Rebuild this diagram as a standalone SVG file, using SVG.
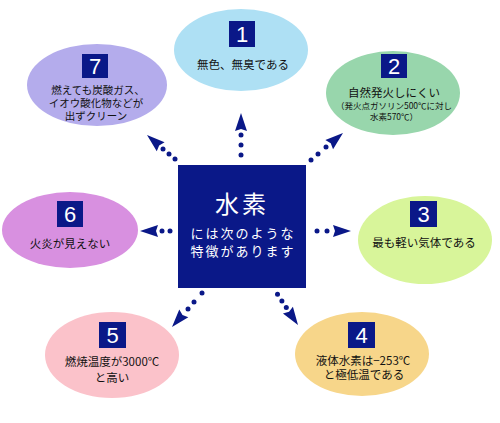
<svg xmlns="http://www.w3.org/2000/svg" xmlns:xlink="http://www.w3.org/1999/xlink" width="500" height="423" viewBox="0 0 500 423">
<style>
.t{font-family:"Noto Sans CJK JP","Liberation Sans",sans-serif;font-size:11.5px;fill:#111;text-anchor:middle}
.s{font-size:8.5px}
.m{font-size:10.5px}
.box{fill:#0a1888}
.num{font-family:"Liberation Sans",Arial,sans-serif;font-size:22px;fill:#fff;text-anchor:middle}
.dot{fill:#0a1888}
.ttl{font-family:"Noto Sans CJK JP",sans-serif;fill:#fff;text-anchor:middle}
</style>
<defs>
<polygon id="head" points="0,0 -18,-6 -16,0 -18,6" fill="#0a1888"/>
</defs>
<rect width="500" height="423" fill="#fff"/>
<g id="connectors">
<use xlink:href="#head" transform="translate(241,113) rotate(-90)"/>
<circle class="dot" cx="241" cy="135" r="2.5"/><circle class="dot" cx="241" cy="145" r="2.5"/><circle class="dot" cx="241" cy="155" r="2.5"/>
<use xlink:href="#head" transform="translate(343,133) rotate(-40)"/>
<circle class="dot" cx="326" cy="147" r="2.5"/><circle class="dot" cx="318" cy="154" r="2.5"/><circle class="dot" cx="311" cy="160" r="2.5"/>
<use xlink:href="#head" transform="translate(351,231)"/>
<circle class="dot" cx="327" cy="231" r="2.5"/><circle class="dot" cx="317" cy="231" r="2.5"/>
<use xlink:href="#head" transform="translate(298,325) rotate(56)"/>
<circle class="dot" cx="286.3" cy="307.5" r="2.5"/><circle class="dot" cx="281.9" cy="300.9" r="2.5"/><circle class="dot" cx="277.5" cy="294.2" r="2.5"/>
<use xlink:href="#head" transform="translate(172,327) rotate(131)"/>
<circle class="dot" cx="188" cy="309" r="2.5"/><circle class="dot" cx="194" cy="302" r="2.5"/><circle class="dot" cx="202" cy="293" r="2.5"/>
<use xlink:href="#head" transform="translate(140,231) rotate(180)"/>
<circle class="dot" cx="162" cy="231" r="2.5"/><circle class="dot" cx="170" cy="231" r="2.5"/>
<use xlink:href="#head" transform="translate(147,135) rotate(220.6)"/>
<circle class="dot" cx="163" cy="149" r="2.5"/><circle class="dot" cx="169" cy="154" r="2.5"/><circle class="dot" cx="175" cy="159" r="2.5"/>
</g>
<g id="center">
<rect x="178" y="165" width="128" height="123" fill="#0a1888"/>
<text class="ttl" x="242" y="213" font-size="24" letter-spacing="3">水素</text>
<text class="ttl" x="243" y="238" font-size="13" letter-spacing="2">には次のような</text>
<text class="ttl" x="243" y="256" font-size="13" letter-spacing="2">特徴があります</text>
</g>
<g id="n1">
<ellipse cx="241" cy="50" rx="67" ry="41" fill="#aee0f4"/>
<rect class="box" x="229" y="21" width="26" height="26"/>
<text class="num" x="242" y="42">1</text>
<text class="t" x="243" y="69">無色、無臭である</text>
</g>
<g id="n2">
<ellipse cx="393" cy="93" rx="67" ry="42" fill="#98d6ac"/>
<rect class="box" x="381" y="54" width="26" height="24"/>
<text class="num" x="394" y="74">2</text>
<text class="t" x="394" y="97">自然発火しにくい</text>
<text class="t s" x="394" y="109">（発火点ガソリン500℃に対し</text>
<text class="t s" x="394" y="120">水素570℃）</text>
</g>
<g id="n3">
<ellipse cx="425" cy="240" rx="67" ry="44" fill="#d8f59a"/>
<rect class="box" x="410" y="201" width="27" height="26"/>
<text class="num" x="423.5" y="222">3</text>
<text class="t" x="424" y="247">最も軽い気体である</text>
</g>
<g id="n4">
<ellipse cx="362" cy="354" rx="67" ry="42" fill="#f7d68a"/>
<rect class="box" x="348" y="322" width="27" height="26"/>
<text class="num" x="361.5" y="343">4</text>
<text class="t" x="363" y="365">液体水素は−253℃</text>
<text class="t" x="364" y="379">と極低温である</text>
</g>
<g id="n5">
<ellipse cx="112" cy="355" rx="67" ry="43" fill="#fbc2ca"/>
<rect class="box" x="99" y="322" width="27" height="26"/>
<text class="num" x="112.5" y="343">5</text>
<text class="t" x="112" y="366">燃焼温度が3000℃</text>
<text class="t" x="112" y="382">と高い</text>
</g>
<g id="n6">
<ellipse cx="70" cy="230" rx="68" ry="38" fill="#d890e0"/>
<rect class="box" x="57" y="201" width="26" height="26"/>
<text class="num" x="70" y="222">6</text>
<text class="t" x="70" y="248">火炎が見えない</text>
</g>
<g id="n7">
<ellipse cx="97" cy="85" rx="70" ry="41" fill="#b4acec"/>
<rect class="box" x="82" y="54" width="26" height="24"/>
<text class="num" x="95" y="74">7</text>
<text class="t m" x="98" y="94">燃えても炭酸ガス、</text>
<text class="t m" x="96" y="107">イオウ酸化物などが</text>
<text class="t m" x="96" y="120">出ずクリーン</text>
</g>
</svg>
